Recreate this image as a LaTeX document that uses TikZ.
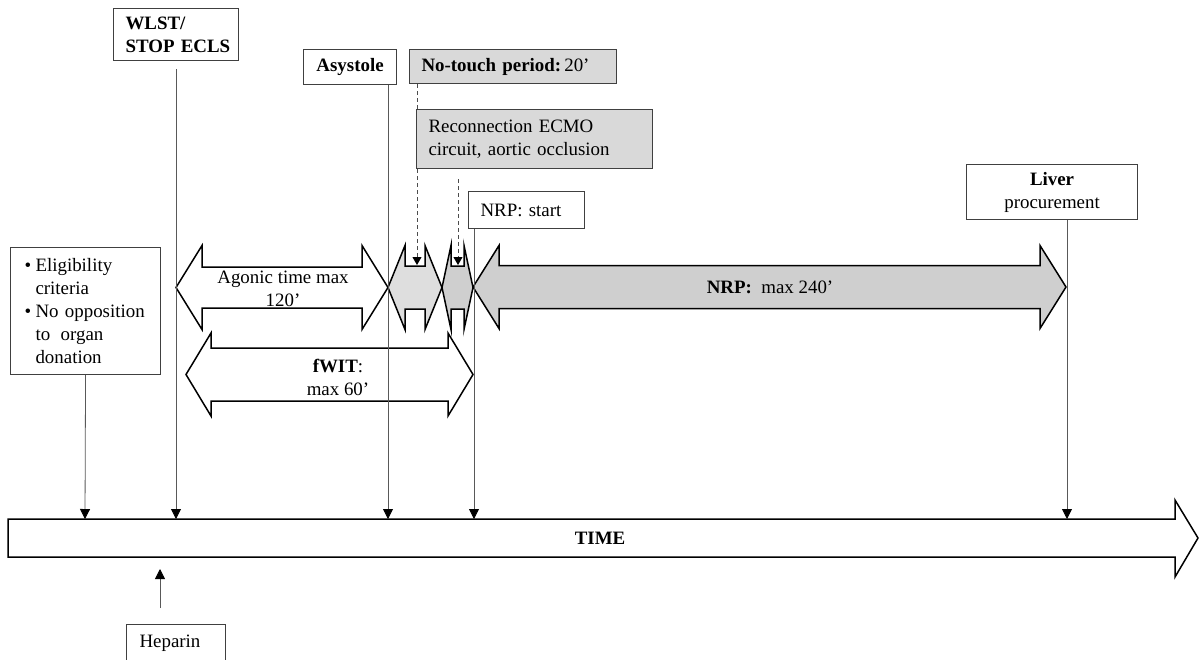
\documentclass[tikz,border=0pt]{standalone}
\usepackage{fontspec}
\setmainfont{Liberation Serif}
\usetikzlibrary{arrows.meta}
\newcommand\fs{\fontsize{18.9}{23}\selectfont}
\newcommand\bul{\hspace*{6pt}\makebox[11pt][l]{\textbullet}}
\newcommand\ind{\hspace*{17pt}}
% #1 style, #2 xl, #3 xr, #4 yc, #5 body half, #6 head half, #7 head length
\newcommand\dblarr[7]{%
  \draw[#1] (#2,#4) -- (#2+#7,#4-#6) -- (#2+#7,#4-#5) -- (#3-#7,#4-#5) -- (#3-#7,#4-#6)
   -- (#3,#4) -- (#3-#7,#4+#6) -- (#3-#7,#4+#5) -- (#2+#7,#4+#5) -- (#2+#7,#4+#6) -- cycle;}
\begin{document}
\begin{tikzpicture}[x=1pt,y=-1pt,
  box/.style={draw=black!75, line width=1.1pt, inner ysep=0pt, font=\fs, anchor=north west},
  lbox/.style={box, align=left},
  gbox/.style={lbox, fill=black!15},
  blk/.style={draw=black, line width=1.5pt, line join=miter},
  conn/.style={draw=black!65, line width=0.8pt, -{Triangle[length=10pt,width=10pt,color=black]}},
  dconn/.style={draw=black!70, line width=0.8pt, dash pattern=on 4pt off 3pt},
  lbl/.style={font=\fs, align=center, inner sep=0pt}]
\useasboundingbox (0,0) rectangle (1199,659);

% block arrows
\dblarr{blk, fill=white}{176}{388}{287.5}{20.5}{42}{26}
\dblarr{blk, fill=black!13}{388}{442}{287.5}{21.5}{42}{17}
\dblarr{blk, fill=black!19}{442}{473}{287.5}{21.5}{42}{9}
\dblarr{blk, fill=black!19}{473}{1066}{287}{21.5}{41.5}{26}
\dblarr{blk}{186}{473}{374.5}{26.5}{41.5}{25}
% time arrow
\draw[blk, fill=white] (8,519) -- (1175,519) -- (1175,500) -- (1198,538) -- (1175,577)
  -- (1175,557) -- (8,557) -- cycle;

\node[lbl] (agonic) at (283,289) {Agonic time max\\120’};
\node[lbl] (fwit) at (338,377) {\textbf{fWIT}:\\max 60’};
\node[lbl] (nrp) at (770,287) {\textbf{NRP:}\ \ max 240’};
\node[lbl] (time) at (600,538) {\textbf{TIME}};

% boxes
\node[lbox, minimum width=125pt, minimum height=52pt, text width=121pt, inner xsep=2pt] (wlst) at (113,8) {\hspace*{10pt}\textbf{WLST/}\\\hspace*{10pt}\textbf{STOP ECLS}};
\node[box, minimum width=93pt, minimum height=35pt, inner xsep=0pt] (asys) at (303,49) {\textbf{Asystole}};
\node[gbox, minimum width=207pt, minimum height=34pt, text width=187pt, inner xsep=10pt] (notouch) at (409,49) {\hspace*{2pt}\textbf{No-touch period:}\,20’};
\node[gbox, minimum width=236pt, minimum height=59pt, text width=216pt, inner xsep=10pt] (recon) at (416,109) {\hspace*{2pt}Reconnection ECMO\\\hspace*{2pt}circuit, aortic occlusion};
\node[lbox, minimum width=116pt, minimum height=37pt, text width=96pt, inner xsep=10pt] (nrpstart) at (468,191) {\hspace*{2pt}NRP: start};
\node[box, minimum width=171pt, minimum height=55pt, align=center, inner xsep=0pt] (liver) at (966,164) {\textbf{Liver}\\procurement};
\node[lbox, minimum width=150pt, minimum height=127pt, text width=134pt, inner xsep=8pt] (elig) at (10,247)
 {\bul Eligibility\\\ind criteria\\\bul No opposition\\\ind to\hspace{0.55em}organ\\\ind donation};
\node[lbox, minimum width=99pt, minimum height=38pt, text width=79pt, inner xsep=10pt] (heparin) at (126,624) {\hspace*{3pt}Heparin};

% coordinates
\coordinate (te) at (85,519);
\coordinate (tw) at (176,519);
\coordinate (ta) at (388,519);
\coordinate (tn) at (474,519);
\coordinate (tl) at (1067,519);
\coordinate (hp) at (160,569);
\coordinate (d1) at (417,265);
\coordinate (d2) at (458,265);
\coordinate (d2s) at (458,179);

% dashed
\draw[dconn] (notouch.south -| d1) -- (recon.north -| d1);
\draw[dconn, -{Triangle[length=8pt,width=9pt,color=black]}] (recon.south -| d1) -- (d1);
\draw[dconn, -{Triangle[length=8pt,width=9pt,color=black]}] (d2s) -- (d2);

% connectors
\draw[conn] (elig.south) -- (te);
\draw[conn, shorten <=8pt] (wlst.south -| tw) -- (tw);
\draw[conn] (asys.south -| ta) -- (ta);
\draw[conn] (nrpstart.south -| tn) -- (tn);
\draw[conn] (liver.south -| tl) -- (tl);
\draw[conn, shorten <=16pt] (heparin.north -| hp) -- (hp);
\end{tikzpicture}
\end{document}
